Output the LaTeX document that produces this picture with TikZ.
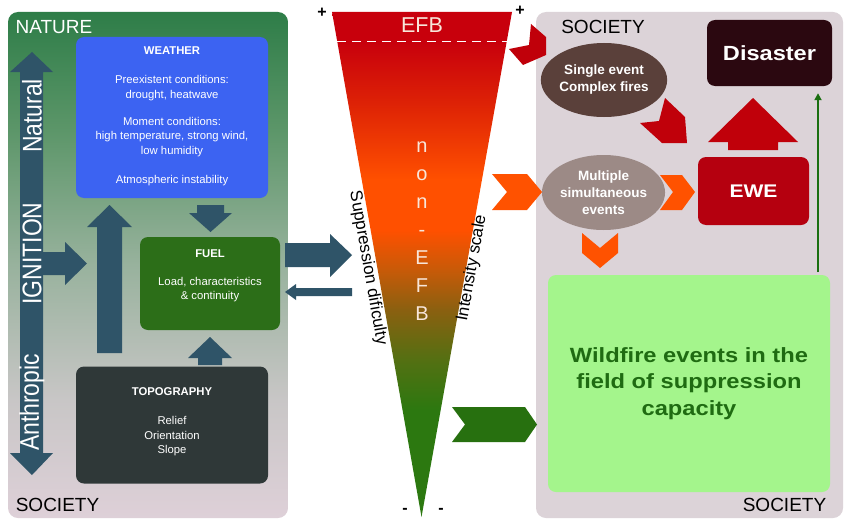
\documentclass[tikz,border=0pt]{standalone}
\usepackage{fontspec}
\setmainfont{Liberation Sans}
\setsansfont{Liberation Sans}
\newfontfamily\wfont[FakeStretch=1.15]{Liberation Sans}
\newfontfamily\vfont[FakeStretch=0.85]{Liberation Sans}
\usetikzlibrary{shapes.geometric,arrows.meta}

\definecolor{slate}{HTML}{2F5468}
\definecolor{wblue}{HTML}{3C63F2}
\definecolor{fgreen}{HTML}{2C6E18}
\definecolor{topo}{HTML}{2F3838}
\definecolor{rightbg}{HTML}{DCD3D8}
\definecolor{disas}{HTML}{2B0810}
\definecolor{ewe}{HTML}{B5000F}
\definecolor{single}{HTML}{5A403A}
\definecolor{multi}{HTML}{9C8A86}
\definecolor{wild}{HTML}{A4F58C}
\definecolor{wildtxt}{HTML}{1F6B12}
\definecolor{chred}{HTML}{C0000A}
\definecolor{chorange}{HTML}{FF5200}
\definecolor{chgreen}{HTML}{27700F}
\definecolor{thinarrow}{HTML}{1A6E10}
\definecolor{nonefb}{HTML}{F8E6DA}
% triangle colours
\definecolor{tred}{HTML}{C8000C}
\definecolor{tredb}{HTML}{DC2006}
\definecolor{torange}{HTML}{FF5000}
\definecolor{tbrown}{HTML}{C85A08}
\definecolor{tolive}{HTML}{8A6010}
\definecolor{tolive2}{HTML}{537012}
\definecolor{tgreen}{HTML}{2C7810}
% left panel colours
\definecolor{lp1}{HTML}{2E7D48}
\definecolor{lp2}{HTML}{5C9669}
\definecolor{lp3}{HTML}{98B29D}
\definecolor{lp4}{HTML}{C8C6C6}
\definecolor{lp5}{HTML}{DED0D8}

\pgfdeclareverticalshading{trishade}{100bp}{%
  color(0bp)=(tgreen); color(25bp)=(tgreen); color(35.6bp)=(tgreen);
  color(40.5bp)=(tolive2); color(45.5bp)=(tolive); color(49.5bp)=(tbrown);
  color(53.4bp)=(torange); color(58.4bp)=(torange); color(66.3bp)=(tredb);
  color(72bp)=(tred); color(75bp)=(tred); color(100bp)=(tred)}
\pgfdeclareverticalshading{leftshade}{100bp}{%
  color(0bp)=(lp5); color(25bp)=(lp5); color(36.7bp)=(lp4);
  color(50bp)=(lp3); color(63.3bp)=(lp2); color(75bp)=(lp1); color(100bp)=(lp1)}

\tikzset{
  box/.style={rectangle, rounded corners=8pt, draw=none, inner sep=0pt},
  small/.style={font=\fontsize{11.3}{14.5}\selectfont, text=white, align=center},
  corner/.style={font=\fontsize{19}{22}\selectfont},
  bigv/.style={font=\vfont\fontsize{27}{27}\selectfont, text=white, rotate=90},
  ell/.style={ellipse, draw=none, inner sep=0pt, text=white, align=center,
     font=\bfseries\fontsize{13.5}{17}\selectfont},
  blockarrow/.style={fill=slate},
  sign/.style={font=\bfseries\fontsize{16}{16}\selectfont},
}

\begin{document}
\begin{tikzpicture}[x=1pt,y=-1pt]
\useasboundingbox (0,0) rectangle (850,527);
\fill[white] (0,0) rectangle (850,527);

% ---------------- left panel
\path[rounded corners=10pt, shading=leftshade] (8,12) rectangle (288,518);
\node[corner, text=white] (nature) at (54,27) {NATURE};
\node[corner, text=black] (socl) at (57.5,505) {SOCIETY};

\node[box, fill=wblue, minimum width=192pt, minimum height=161pt] (weather) at (172,117.5) {};
\node[small] (weathertxt) at (172,116.5) {\textbf{WEATHER}\\[14.5pt]
  Preexistent conditions:\\ drought, heatwave\\[12.5pt]
  Moment conditions:\\ high temperature, strong wind,\\ low humidity\\[14.5pt]
  Atmospheric instability};

\node[box, fill=fgreen, minimum width=140pt, minimum height=93pt] (fuel) at (210,283.5) {};
\node[small] (fueltxt) at (210,276) {\textbf{FUEL}\\[13.5pt] Load, characteristics\\ \& continuity};

\node[box, fill=topo, minimum width=192pt, minimum height=117pt] (topo) at (172,425) {};
\node[small] (topotxt) at (172,422) {\textbf{TOPOGRAPHY}\\[14.5pt] Relief\\ Orientation\\ Slope};

% ignition double arrow
\fill[blockarrow] (32,52) -- (53,72) -- (43,72) -- (43,453) -- (53,453) -- (32,475)
   -- (10,453) -- (20,453) -- (20,72) -- (10,72) -- cycle;
\node[bigv] (natural) at (32,116) {Natural};
\node[bigv] (ignition) at (32,253.5) {IGNITION};
\node[bigv] (anthropic) at (32,402.5) {Anthropic};
% horizontal arrow from shaft
\fill[blockarrow] (43,252) -- (65,252) -- (65,242) -- (87,263.5) -- (65,285) -- (65,275) -- (43,275) -- cycle;
% up arrow
\fill[blockarrow] (97,353) -- (97,227) -- (87,227) -- (109.5,205) -- (132,227) -- (122,227) -- (122,353) -- cycle;
% weather -> fuel
\fill[blockarrow] (197,205) -- (224,205) -- (224,213) -- (232,213) -- (210.5,232) -- (189,213) -- (197,213) -- cycle;
% topography -> fuel
\fill[blockarrow] (198,365) -- (198,358) -- (188,358) -- (210,337) -- (232,358) -- (222,358) -- (222,365) -- cycle;
% fuel -> triangle
\fill[blockarrow] (285,243) -- (330,243) -- (330,234) -- (352,255) -- (330,277) -- (330,267) -- (285,267) -- cycle;
% triangle -> fuel (small)
\fill[blockarrow] (352,288) -- (296,288) -- (296,284) -- (285,292) -- (296,300) -- (296,296) -- (352,296) -- cycle;

% ---------------- triangle
\path[shading=trishade] (332,12) -- (512,12) -- (421.5,517) -- cycle;
\draw[white, line width=1pt, dash pattern=on 9pt off 6pt] (337,42) -- (507,42);
\node[font=\fontsize{21.5}{22}\selectfont, text=nonefb] (efb) at (422,25) {EFB};
\node[font=\fontsize{20}{28}\selectfont, text=nonefb, align=center] (nonefbtxt) at (422,231)
  {n\\o\\n\\-\\E\\F\\B};
\node[font=\fontsize{17}{17}\selectfont, rotate=-80, inner sep=1pt] (supp) at (368,268) {Suppression dificulty};
\node[font=\fontsize{17}{17}\selectfont, rotate=80, inner sep=1pt] (inten) at (472,268) {Intensity scale};
\node[sign] (p1) at (322,13) {+};
\node[sign] (p2) at (520,11) {+};
\node[sign] (m1) at (405,511) {-};
\node[sign] (m2) at (441,511) {-};

% ---------------- right panel
\fill[rightbg, rounded corners=10pt] (536,12) rectangle (843,518);
\node[corner, text=black] (socr) at (603,27) {SOCIETY};
\node[corner, text=black] (socrb) at (784.5,505) {SOCIETY};

\node[box, fill=disas, minimum width=125pt, minimum height=66pt, text=white,
  font=\wfont\bfseries\fontsize{20.5}{24}\selectfont] (disaster) at (769.5,53) {Disaster};
\node[box, fill=ewe, minimum width=111pt, minimum height=68pt, text=white,
  font=\wfont\bfseries\fontsize{18.3}{22}\selectfont] (ewe) at (753.5,191) {EWE};
\node[ell, fill=single, minimum width=115pt, minimum height=74pt] (single) at (604,80)
  {Single event\\Complex fires};
\node[ell, fill=multi, minimum width=113pt, minimum height=75pt] (multi) at (603.5,192.5)
  {Multiple\\simultaneous\\events};
\node[box, fill=wild, minimum width=282pt, minimum height=217pt, text=wildtxt, align=center,
  font=\wfont\bfseries\fontsize{20.6}{26.5}\selectfont] (wildbox) at (689,383.5)
  {Wildfire events in the\\field of suppression\\capacity};

% thin green arrow wildfire -> disaster
\coordinate (ga) at (818,272);
\draw[thinarrow, line width=2pt, -{Triangle[width=7pt,length=7pt]}, shorten >=7pt]
  (ga) -- (ga |- disaster.south);

% red arrows
\fill[chred] (531,24) -- (546,37) -- (546,55) -- (523,65) -- (509,49) -- (529,45) -- cycle;
\fill[chred] (665,98) -- (685,117) -- (687,143) -- (662,143) -- (640,123) -- (659,121) -- cycle;
\fill[chred] (753,98) -- (798,142) -- (778,142) -- (778,150) -- (728,150) -- (728,142) -- (708,142) -- cycle;

% orange chevrons
\fill[chorange] (492,174) -- (527,174) -- (542,192) -- (527,210) -- (492,210) -- (507,192) -- cycle;
\fill[chorange] (660,175) -- (682,175) -- (695,192) -- (682,210) -- (660,210) -- (673,192) -- cycle;
\fill[chorange] (582,233) -- (600,248) -- (618,233) -- (618,253) -- (600,268) -- (582,253) -- cycle;

% green chevron
\fill[chgreen] (452,407) -- (525,407) -- (537,424.5) -- (525,442) -- (452,442) -- (465,424.5) -- cycle;
\end{tikzpicture}
\end{document}
